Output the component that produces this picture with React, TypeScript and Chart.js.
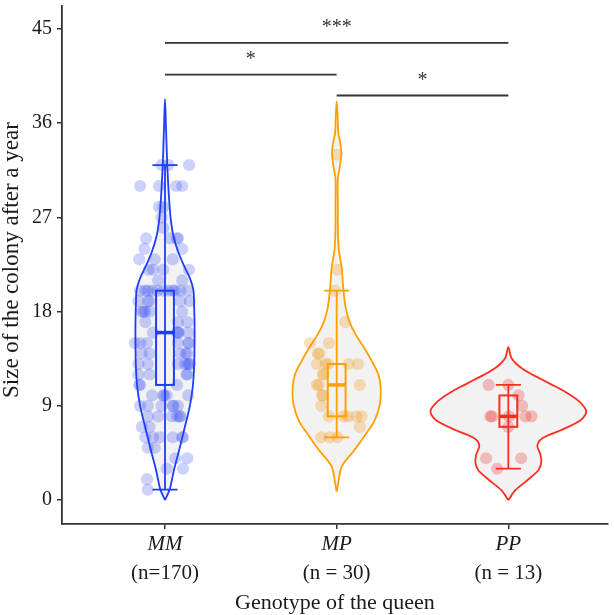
import React, { useEffect, useRef } from 'react';
import { Chart, registerables } from 'chart.js';

Chart.register(...registerables);

// ---------- data ----------
const categories = ['MM', 'MP', 'PP'];
const sampleLabels = ['(n=170)', '(n = 30)', '(n = 13)'];
const yTickValues = [0, 9, 18, 27, 36, 45];
const yTitle = 'Size of the colony after a year';
const xTitle = 'Genotype of the queen';

// box / errorbar statistics
const whiskerLow = [1, 6, 3];
const q1 = [11, 8, 7];
const medians = [16, 11, 8];
const q3 = [20, 13, 10];
const whiskerHigh = [32, 20, 11];

// violin density profiles (value levels, half-width in category units)
const mmViolinY = [0, 1, 2, 3, 5, 7, 9, 11, 13, 15, 17, 19, 20.1, 21.2, 22.2, 23.7, 25.3, 26.9, 28.5, 30.1, 32, 34, 36, 38.3];
const mmViolinHalf = [0, 0.027, 0.041, 0.054, 0.086, 0.116, 0.145, 0.163, 0.17, 0.172, 0.172, 0.169, 0.165, 0.145, 0.116, 0.077, 0.048, 0.033, 0.025, 0.019, 0.013, 0.009, 0.005, 0];
const mpViolinY = [0.8, 1.6, 3.2, 4.75, 6.3, 7.6, 9.2, 10.8, 12.0, 13.3, 14.55, 15.8, 17.1, 18.4, 20.1, 22.2, 24, 26, 28, 30.7, 32, 33.1, 34.2, 35.1, 36.5, 38.1];
const mpViolinHalf = [0, 0.009, 0.029, 0.102, 0.169, 0.221, 0.252, 0.256, 0.243, 0.204, 0.16, 0.111, 0.073, 0.052, 0.039, 0.029, 0.012, 0.007, 0.007, 0.007, 0.02, 0.027, 0.02, 0.009, 0.006, 0];
const ppViolinY = [0, 0.95, 1.9, 2.85, 3.6, 4.4, 5.2, 5.9, 6.65, 7.6, 8.5, 9.5, 10.4, 11.1, 11.7, 12.3, 13.0, 13.6, 14.6];
const ppViolinHalf = [0, 0.041, 0.111, 0.175, 0.192, 0.186, 0.169, 0.198, 0.302, 0.419, 0.454, 0.407, 0.326, 0.244, 0.175, 0.105, 0.047, 0.017, 0];

// jittered observations: values and horizontal jitter (category units)
const mmValues = [
  32, 32, 32,
  30, 30, 30, 30,
  28, 28, 27, 26,
  25, 25, 25, 25,
  24, 24,
  23, 23, 23,
  22, 22, 22, 22,
  21, 21,
  20, 20, 20, 20, 20, 20, 20, 20, 20, 20, 20,
  19, 19, 19, 19, 19,
  18, 18, 18, 18, 18,
  17, 17, 17,
  16, 16, 16, 16, 16,
  15, 15, 15, 15, 15, 15,
  14, 14, 14, 14, 14,
  13, 13, 13, 13, 13, 13, 13,
  12, 12, 12, 12,
  11, 11, 11,
  10, 10, 10, 10, 10,
  9, 9, 9, 9, 9, 9,
  8, 8, 8, 8, 8, 8,
  7, 7,
  6, 6, 6, 6, 6, 6,
  5, 5,
  4, 4,
  3, 3,
  2, 1,
];
const mmJitter = [
  0.14, -0.02, 0.02,
  -0.145, -0.035, 0.065, 0.1,
  -0.035, -0.01, -0.02, -0.01,
  -0.11, 0.03, 0.07, 0.075,
  -0.12, 0.1,
  -0.15, -0.06, 0.045,
  -0.095, -0.07, -0.01, 0.14,
  -0.04, 0.1,
  -0.145, -0.115, -0.075, -0.045, -0.01, 0.02, 0.06, 0.09, 0.13, -0.1, 0.045,
  -0.155, -0.1, 0.09, 0.145, -0.09,
  -0.135, -0.115, -0.09, 0.1, -0.125,
  -0.115, 0.075, 0.13,
  -0.07, 0.07, 0.135, 0.075, 0.08,
  -0.175, -0.145, -0.105, 0.075, 0.135, 0.14,
  -0.135, -0.09, 0.09, 0.13, 0.12,
  -0.155, -0.1, 0.075, 0.115, 0.145, 0.13, 0.14,
  -0.155, -0.09, 0.13, 0.125,
  -0.145, 0.07, -0.15,
  -0.075, -0.01, 0.01, 0.135, -0.005,
  -0.145, -0.1, -0.02, 0.045, 0.075, 0.05,
  -0.1, -0.04, 0.04, 0.07, 0.09, 0.085,
  -0.135, -0.09,
  -0.115, -0.07, -0.03, 0.045, 0.1, 0.105,
  -0.1, -0.06,
  0.06, 0.13,
  0.01, 0.105,
  -0.105, -0.1,
];
const mpValues = [33, 22, 20, 17, 15, 15, 14, 14, 13, 13, 13, 13, 13, 12, 12, 11, 11, 11, 10, 10, 9, 8, 8, 8, 8, 8, 7, 6, 6, 6];
const mpJitter = [0, 0.005, -0.01, 0.05, -0.155, -0.045, -0.11, -0.1, -0.115, -0.065, -0.05, 0.07, 0.125, -0.08, -0.075, -0.115, 0.135, -0.105, -0.08, -0.085, -0.09, -0.045, 0.04, 0.065, 0.115, 0.145, 0.135, -0.09, -0.04, 0.005];
const ppValues = [11, 11, 10, 9, 8, 8, 8, 8, 8, 7, 4, 4, 3];
const ppJitter = [-0.115, 0, 0.06, 0.08, -0.105, -0.095, 0.1, 0.135, 0.005, 0, -0.13, 0.075, -0.065];

// significance brackets
const sigFrom = [1, 1, 2];
const sigTo = [3, 2, 3];
const sigY = [43.67, 40.63, 38.64];
const sigLabel = ['***', '*', '*'];

// ---------- styles ----------
const lineColors = ['#1f3dff', '#ffa000', '#ff2d1e'];
const pointColors = ['rgba(40,65,245,0.24)', 'rgba(240,160,50,0.33)', 'rgba(240,55,55,0.3)'];
const violinFill = 'rgba(236,236,236,0.7)';
const SERIF = '"Liberation Serif", "Times New Roman", serif';
const BOX_HALF = 0.052;
const CAP_HALF = 0.073;

function violinPath(center: number, ys: number[], halves: number[]) {
  const right = ys.map((v, i) => ({ x: center + halves[i], y: v }));
  const left = ys
    .slice(0, -1)
    .map((v, i) => ({ x: center - halves[i], y: v }))
    .reverse();
  return [...right, ...left];
}

const overlayPlugin = {
  id: 'overlay',
  afterDatasetsDraw(chart: any) {
    const { ctx, scales } = chart;
    const x = scales.x;
    const y = scales.y;
    ctx.save();
    categories.forEach((_, i) => {
      const c = i + 1;
      const cx = x.getPixelForValue(c);
      const capL = x.getPixelForValue(c - CAP_HALF);
      const capR = x.getPixelForValue(c + CAP_HALF);
      const bL = x.getPixelForValue(c - BOX_HALF);
      const bR = x.getPixelForValue(c + BOX_HALF);
      const yLo = y.getPixelForValue(whiskerLow[i]);
      const yHi = y.getPixelForValue(whiskerHigh[i]);
      const yQ1 = y.getPixelForValue(q1[i]);
      const yQ3 = y.getPixelForValue(q3[i]);
      const yMed = y.getPixelForValue(medians[i]);
      ctx.strokeStyle = lineColors[i];
      ctx.lineWidth = 1.8;
      ctx.beginPath();
      ctx.moveTo(cx, yLo);
      ctx.lineTo(cx, yHi);
      ctx.moveTo(capL, yLo);
      ctx.lineTo(capR, yLo);
      ctx.moveTo(capL, yHi);
      ctx.lineTo(capR, yHi);
      ctx.stroke();
      ctx.lineWidth = 2;
      ctx.strokeRect(bL, yQ3, bR - bL, yQ1 - yQ3);
      ctx.lineWidth = 3.5;
      ctx.beginPath();
      ctx.moveTo(bL, yMed);
      ctx.lineTo(bR, yMed);
      ctx.stroke();
    });
    ctx.restore();
  },
  afterDraw(chart: any) {
    const { ctx, scales, chartArea } = chart;
    const x = scales.x;
    const y = scales.y;
    ctx.save();
    // significance brackets
    ctx.strokeStyle = '#333';
    ctx.fillStyle = '#333';
    ctx.lineWidth = 1.8;
    ctx.font = `20px ${SERIF}`;
    ctx.textAlign = 'center';
    ctx.textBaseline = 'alphabetic';
    sigLabel.forEach((lab, i) => {
      const x0 = x.getPixelForValue(sigFrom[i]);
      const x1 = x.getPixelForValue(sigTo[i]);
      const yy = y.getPixelForValue(sigY[i]);
      ctx.beginPath();
      ctx.moveTo(x0, yy);
      ctx.lineTo(x1, yy);
      ctx.stroke();
      ctx.fillText(lab, (x0 + x1) / 2, yy - 10);
    });
    // category labels
    ctx.fillStyle = '#1a1a1a';
    categories.forEach((cat, i) => {
      const cx = x.getPixelForValue(i + 1);
      ctx.font = `italic 21px ${SERIF}`;
      ctx.fillText(cat, cx, chartArea.bottom + 26);
      ctx.font = `21px ${SERIF}`;
      ctx.fillText(sampleLabels[i], cx, chartArea.bottom + 55);
    });
    // axis titles
    ctx.font = `22px ${SERIF}`;
    ctx.fillText(xTitle, (chartArea.left + chartArea.right) / 2, chartArea.bottom + 85);
    ctx.font = `23px ${SERIF}`;
    ctx.translate(18, (chartArea.top + chartArea.bottom) / 2 - 5);
    ctx.rotate(-Math.PI / 2);
    ctx.fillText(yTitle, 0, 0);
    ctx.restore();
  },
};

export default function App() {
  const ref = useRef<HTMLCanvasElement | null>(null);
  useEffect(() => {
    if (!ref.current) return;
    const violins = [
      violinPath(1, mmViolinY, mmViolinHalf),
      violinPath(2, mpViolinY, mpViolinHalf),
      violinPath(3, ppViolinY, ppViolinHalf),
    ];
    const pts = [
      mmValues.map((v, i) => ({ x: 1 + mmJitter[i], y: v })),
      mpValues.map((v, i) => ({ x: 2 + mpJitter[i], y: v })),
      ppValues.map((v, i) => ({ x: 3 + ppJitter[i], y: v })),
    ];
    const datasets: any[] = [];
    violins.forEach((d, i) => {
      datasets.push({
        label: categories[i] + ' violin',
        data: d,
        showLine: true,
        fill: 'shape',
        backgroundColor: violinFill,
        borderColor: lineColors[i],
        borderWidth: 1.8,
        tension: 0.3,
        pointRadius: 0,
        pointHoverRadius: 0,
        order: 5,
      });
    });
    pts.forEach((d, i) => {
      datasets.push({
        label: categories[i],
        data: d,
        showLine: false,
        pointRadius: 6.1,
        pointHoverRadius: 6.1,
        pointBackgroundColor: pointColors[i],
        backgroundColor: pointColors[i],
        pointBorderWidth: 0,
        borderWidth: 0,
        order: 1,
      });
    });
    const chart = new Chart(ref.current, {
      type: 'scatter',
      data: { datasets },
      plugins: [overlayPlugin],
      options: {
        animation: false,
        responsive: false,
        devicePixelRatio: 1,
        events: [],
        layout: { padding: { top: 3, right: 0, left: 0, bottom: 0 } },
        plugins: { legend: { display: false }, tooltip: { enabled: false } },
        scales: {
          x: {
            type: 'linear',
            min: 0.4,
            max: 3.58,
            afterBuildTicks: (s: any) => {
              s.ticks = categories.map((_, i) => ({ value: i + 1 }));
            },
            afterFit: (s: any) => {
              s.height = 91;
              s.paddingLeft = 0;
              s.paddingRight = 0;
            },
            ticks: { display: false },
            grid: { display: true, drawOnChartArea: false, drawTicks: true, tickLength: 5, color: '#333', lineWidth: 1.5 },
            border: { display: true, color: '#333', width: 1.8 },
          },
          y: {
            type: 'linear',
            min: -2.28,
            max: 47.18,
            afterBuildTicks: (s: any) => {
              s.ticks = yTickValues.map((v) => ({ value: v }));
            },
            afterFit: (s: any) => {
              s.width = 62;
              s.paddingTop = 0;
              s.paddingBottom = 0;
            },
            ticks: { font: { family: SERIF, size: 20 }, color: '#1a1a1a', padding: 5 },
            grid: { display: true, drawOnChartArea: false, drawTicks: true, tickLength: 5, color: '#333', lineWidth: 1.5 },
            border: { display: true, color: '#333', width: 1.8 },
          },
        },
      },
    });
    return () => chart.destroy();
  }, []);
  return (
    <div style={{ position: 'absolute', left: 0, top: 0, width: 614, height: 615, background: '#fff' }}>
      <canvas ref={ref} width={614} height={615} style={{ display: 'block' }} />
    </div>
  );
}
